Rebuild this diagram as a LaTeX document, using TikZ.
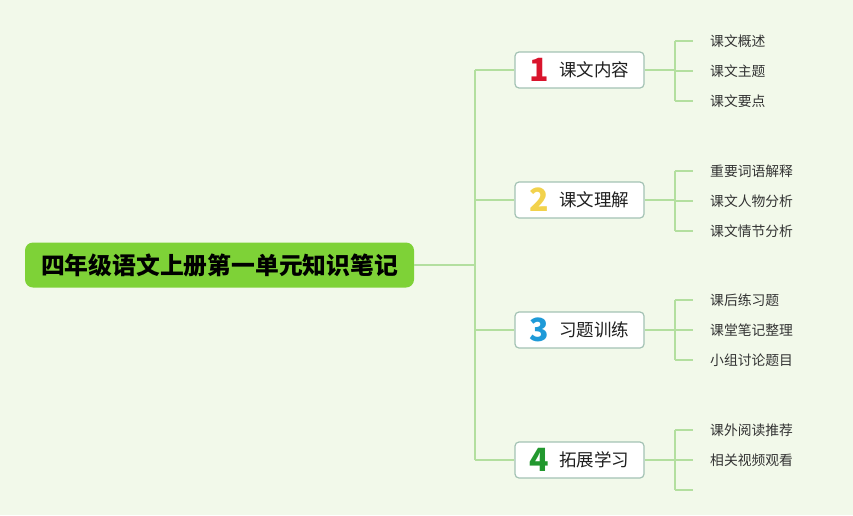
\documentclass[tikz,border=0pt]{standalone}
\usepackage{fontspec}
\setmainfont{Noto Sans CJK SC}
\definecolor{bgc}{HTML}{F2F9EA}
\definecolor{linec}{HTML}{B3DF9F}
\definecolor{rootc}{HTML}{7ED237}
\definecolor{boxborder}{HTML}{A3C2B4}
\definecolor{numone}{HTML}{D9142C}
\definecolor{numtwo}{HTML}{F2D24C}
\definecolor{numthree}{HTML}{1E9AD8}
\definecolor{numfour}{HTML}{22982E}
\definecolor{leaftext}{HTML}{333333}
\tikzset{
  conn/.style={draw=linec, line width=1.6pt},
  rootbox/.style={fill=rootc, rounded corners=8pt, minimum width=389pt, minimum height=45pt, inner sep=0pt, font=\fontsize{23.8}{26}\selectfont\bfseries, text=black},
  topicbox/.style={draw=boxborder, line width=1.2pt, fill=white, rounded corners=4pt, minimum width=129pt, minimum height=36pt, inner sep=0pt, font=\fontsize{17.5}{20}\selectfont, text=black!88},
  leaf/.style={anchor=west, inner xsep=17pt, inner ysep=0pt, font=\fontsize{13.8}{16}\selectfont, text=leaftext}
}
\newcommand{\bignum}[2]{\smash{\raisebox{-4.5pt}{\fontsize{32}{32}\selectfont\bfseries\color{#1}#2}}\hspace{10pt}}
\begin{document}
\begin{tikzpicture}[x=1pt,y=-1pt]
\fill[bgc] (0,0) rectangle (853,515);
\useasboundingbox (0,0) rectangle (853,515);

\node[rootbox] (root) at (219.5,265) {四年级语文上册第一单元知识笔记};

\node[topicbox] (t1) at (579.5,70) {\bignum{numone}{1}课文内容};
\node[topicbox] (t2) at (579.5,200) {\bignum{numtwo}{2}课文理解};
\node[topicbox] (t3) at (579.5,330) {\bignum{numthree}{3}习题训练};
\node[topicbox] (t4) at (579.5,460) {\bignum{numfour}{4}拓展学习};

\coordinate (ta) at (475,70);
\coordinate (tr) at (475,265);
\coordinate (tb) at (475,200);
\coordinate (tc) at (475,330);
\coordinate (td) at (475,460);

\draw[conn] (root.east) -- (tr);
\draw[conn] (ta) -- (td);
\draw[conn] (ta) -- (t1.west);
\draw[conn] (tb) -- (t2.west);
\draw[conn] (tc) -- (t3.west);
\draw[conn] (td) -- (t4.west);

% leaves
\node[leaf] (l11) at (693,41) {课文概述};
\node[leaf] (l12) at (693,71) {课文主题};
\node[leaf] (l13) at (693,101) {课文要点};
\node[leaf] (l21) at (693,171) {重要词语解释};
\node[leaf] (l22) at (693,201) {课文人物分析};
\node[leaf] (l23) at (693,231) {课文情节分析};
\node[leaf] (l31) at (693,300) {课后练习题};
\node[leaf] (l32) at (693,330) {课堂笔记整理};
\node[leaf] (l33) at (693,360) {小组讨论题目};
\node[leaf] (l41) at (693,430) {课外阅读推荐};
\node[leaf] (l42) at (693,460) {相关视频观看};
\coordinate (l43) at (693,490);

\coordinate (j1a) at (675,41);  \coordinate (j1b) at (675,70);  \coordinate (j1c) at (675,101);
\coordinate (j2a) at (675,171); \coordinate (j2b) at (675,200); \coordinate (j2c) at (675,231);
\coordinate (j3a) at (675,300); \coordinate (j3b) at (675,330); \coordinate (j3c) at (675,360);
\coordinate (j4a) at (675,430); \coordinate (j4b) at (675,460); \coordinate (j4c) at (675,490);

\draw[conn] (t1.east) -- (j1b);
\draw[conn] (j1a) -- (j1c);
\draw[conn] (j1a) -- (l11.west);
\draw[conn] (j1b |- l12.west) -- (l12.west);
\draw[conn] (j1c) -- (l13.west);

\draw[conn] (t2.east) -- (j2b);
\draw[conn] (j2a) -- (j2c);
\draw[conn] (j2a) -- (l21.west);
\draw[conn] (j2b |- l22.west) -- (l22.west);
\draw[conn] (j2c) -- (l23.west);

\draw[conn] (t3.east) -- (j3b);
\draw[conn] (j3a) -- (j3c);
\draw[conn] (j3a) -- (l31.west);
\draw[conn] (j3b) -- (l32.west);
\draw[conn] (j3c) -- (l33.west);

\draw[conn] (t4.east) -- (j4b);
\draw[conn] (j4a) -- (j4c);
\draw[conn] (j4a) -- (l41.west);
\draw[conn] (j4b) -- (l42.west);
\draw[conn] (j4c) -- (l43);
\end{tikzpicture}
\end{document}
